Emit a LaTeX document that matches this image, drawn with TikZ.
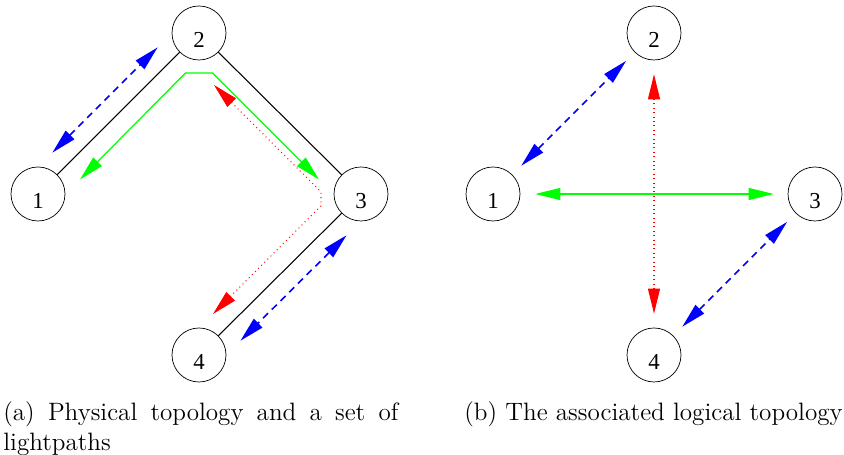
\documentclass[tikz,border=0pt]{standalone}
\usepackage{fontspec}
\newfontfamily\figfont{Liberation Serif}
\usetikzlibrary{arrows.meta}

\definecolor{xgreen}{RGB}{0,255,0}

\begin{document}
\begin{tikzpicture}[
  >={Triangle[length=5mm,width=2.4mm]},
  station/.style={draw,circle,minimum size=10.8mm,inner sep=0pt,font=\figfont\fontsize{13}{15}\selectfont,text height=5.9mm,text depth=0pt},
  fibre/.style={line width=0.6pt},
  lpblue/.style={<->,blue,line width=0.9pt,dash pattern=on 4pt off 3pt},
  lpgreen/.style={<->,xgreen,line width=0.7pt},
  lpred/.style={<->,red,line width=0.6pt,dash pattern=on 0.5pt off 2pt},
  subcap/.style={inner sep=0pt,anchor=north west,align=justify,font=\fontsize{14.3}{17}\selectfont}
]
  \useasboundingbox (0,0) rectangle (16.88,9.10);

  % (a) physical topology
  \node[station] (p1) at (0.76,5.22) {1};
  \node[station] (p2) at (3.98,8.44) {2};
  \node[station] (p3) at (7.22,5.22) {3};
  \node[station] (p4) at (3.98,2.00) {4};

  \path[fibre]
    (p1) edge (p2)
    (p2) edge (p3)
    (p3) edge (p4);

  \path[lpblue,shorten <=2.4mm,shorten >=2.4mm]
    (p1) edge[transform canvas={shift={(-0.27,0.27)}}] (p2)
    (p3) edge[transform canvas={shift={(0.27,-0.27)}}] (p4);

  \coordinate (g1) at (1.60,5.51);
  \coordinate (g2) at (3.71,7.64);
  \coordinate (g3) at (4.25,7.64);
  \coordinate (g4) at (6.38,5.51);
  \draw[lpgreen] (g1) -- (g2) -- (g3) -- (g4);

  \coordinate (r1) at (4.28,7.40);
  \coordinate (r2) at (6.42,5.26);
  \coordinate (r3) at (6.42,4.98);
  \coordinate (r4) at (4.26,2.82);
  \draw[lpred] (r1) -- (r2) -- (r3) -- (r4);

  % (b) logical topology
  \node[station] (l1) at (9.86,5.22) {1};
  \node[station] (l2) at (13.08,8.44) {2};
  \node[station] (l3) at (16.30,5.22) {3};
  \node[station] (l4) at (13.08,2.00) {4};

  \path[lpblue,shorten <=2.5mm,shorten >=2.4mm]
    (l1) edge (l2)
    (l4) edge (l3);
  \path[lpgreen,shorten <=3mm,shorten >=2.8mm] (l1) edge (l3);
  \path[lpred,shorten <=2.8mm,shorten >=2.8mm] (l2) edge (l4);

  % captions
  \node[subcap,text width=7.9cm] (capa) at (0.06,1.08) {\hyphenpenalty=10000 (a) Physical topology and a set of lightpaths};
  \node[subcap] (capb) at (9.28,1.08) {(b) The associated logical topology};
\end{tikzpicture}
\end{document}
